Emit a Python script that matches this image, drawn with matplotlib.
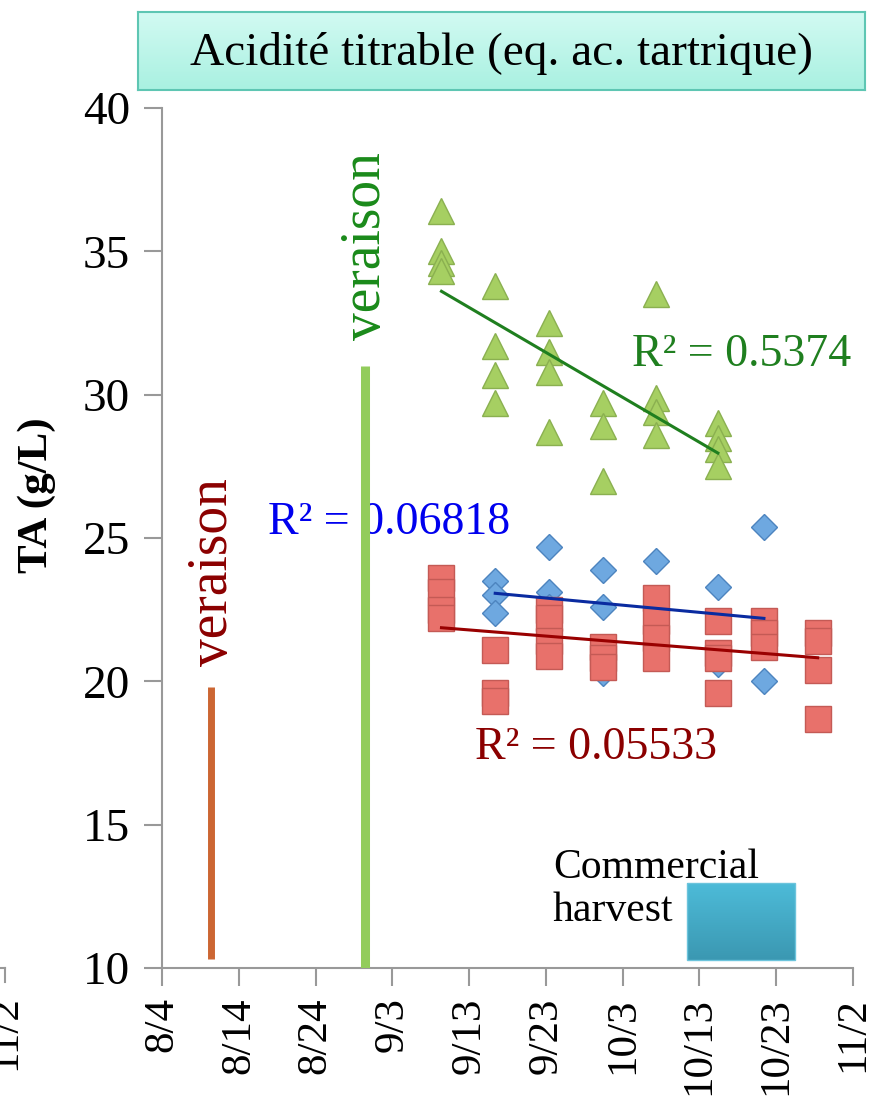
import numpy as np
import pandas as pd
import matplotlib
matplotlib.use("Agg")
import matplotlib.pyplot as plt
import matplotlib.dates as mdates
from matplotlib.colors import LinearSegmentedColormap
from matplotlib.patches import Rectangle

plt.rcParams['font.family'] = ['Liberation Serif', 'DejaVu Serif']

YEAR = 2012
SHIFT = 0.4  # samples sit a bit after midnight on the date axis

# sampling dates (month/day) and TA values (g/L) per date
green_ta = {
    "9/9": [36.4, 35.0, 34.6, 34.3],
    "9/16": [33.8, 31.7, 30.7, 29.7],
    "9/23": [32.5, 31.5, 30.8, 28.7],
    "9/30": [29.7, 28.9, 27.0],
    "10/7": [33.5, 29.9, 29.4, 28.6],
    "10/15": [29.0, 28.5, 28.1, 27.5],
}
blue_ta = {
    "9/16": [23.5, 23.0, 22.4],
    "9/23": [24.7, 23.1, 22.6],
    "9/30": [23.9, 22.6, 20.3],
    "10/7": [24.2, 22.0, 21.2],
    "10/15": [23.3, 20.6],
    "10/21": [25.4, 20.0],
}
red_ta = {
    "9/9": [23.6, 23.1, 22.5, 22.2],
    "9/16": [21.1, 19.6, 19.3],
    "9/23": [22.5, 22.2, 21.4, 20.9],
    "9/30": [21.2, 20.8, 20.5],
    "10/7": [22.9, 22.1, 21.5, 20.8],
    "10/15": [22.1, 21.0, 20.8, 19.6],
    "10/21": [22.1, 21.7, 21.2],
    "10/28": [21.7, 21.4, 20.4, 18.7],
}
r2_labels = {"green": "R² = 0.5374", "blue": "R² = 0.06818", "red": "R² = 0.05533"}

veraison_red = ("8/10", 19.8)
veraison_green = ("8/30", 31.0)
harvest_window = ("10/11", "10/25")

tick_labels = ["8/4", "8/14", "8/24", "9/3", "9/13", "9/23", "10/3", "10/13", "10/23", "11/2"]


def to_num(md, shift=0.0):
    m, d = md.split("/")
    return mdates.date2num(pd.Timestamp(YEAR, int(m), int(d))) + shift


def flatten(series):
    xs, ys = [], []
    for k, vals in series.items():
        for v in vals:
            xs.append(to_num(k, SHIFT))
            ys.append(v)
    return np.array(xs), np.array(ys)


fig = plt.figure(figsize=(8.83, 10.97), dpi=100)
ax = fig.add_axes([0.1835, 0.1176, 0.7825, 0.7839])

gx, gy = flatten(green_ta)
bx, by = flatten(blue_ta)
rx, ry = flatten(red_ta)

ax.plot(gx, gy, linestyle='none', marker='^', ms=19, mfc='#a6cf62', mec='#8ab050', mew=1, zorder=3)
ax.plot(bx, by, linestyle='none', marker='D', ms=13.5, mfc='#6ea8e0', mec='#4d84bf', mew=1, zorder=3)
ax.plot(rx, ry, linestyle='none', marker='s', ms=18.5, mfc='#e8716b', mec='#c45a55', mew=1, zorder=4)

# linear trend lines
for xs, ys, col in [(gx, gy, '#1f7f1f'), (bx, by, '#0a2ba0'), (rx, ry, '#990000')]:
    k, b = np.polyfit(xs, ys, 1)
    xx = np.array([xs.min(), xs.max()])
    ax.plot(xx, k * xx + b, color=col, lw=2.2, zorder=5)

# veraison markers
vr = to_num(veraison_red[0], SHIFT)
vg = to_num(veraison_green[0], SHIFT)
ax.plot([vr, vr], [10.3, veraison_red[1]], color='#cc6633', lw=5, zorder=6, solid_capstyle='butt')
ax.plot([vg, vg], [10, veraison_green[1]], color='#92cc5c', lw=6.5, zorder=6, solid_capstyle='butt')
ax.text(vr + 0.3, 23.8, "veraison", rotation=90, color='#8b0000',
        fontsize=40, ha='center', va='center')
ax.text(vg + 0.2, 35.2, "veraison", rotation=90, color='#1a8a1a',
        fontsize=40, ha='center', va='center')

# R² labels
ax.text(to_num("8/4", 61.2), 31.4, r2_labels["green"], color='#1f7f1f', fontsize=33, ha='left', va='center')
ax.text(to_num("8/4", 13.8), 25.55, r2_labels["blue"], color='#0000ee', fontsize=33, ha='left', va='center',
        zorder=2)
ax.text(to_num("8/4", 40.8), 17.67, r2_labels["red"], color='#8b0000', fontsize=33, ha='left', va='center')

# commercial harvest box
hx0, hx1 = to_num(harvest_window[0], SHIFT), to_num(harvest_window[1], SHIFT)
grad = np.linspace(0, 1, 64).reshape(-1, 1)
ax.imshow(grad, extent=[hx0, hx1, 10.28, 12.95], aspect='auto', origin='lower', zorder=3,
          cmap=LinearSegmentedColormap.from_list('h', ['#3b98b2', '#4dbbd8']))
ax.add_patch(Rectangle((hx0, 10.28), hx1 - hx0, 2.67, fill=False, ec='#6cc4dc', lw=1, zorder=3))
ax.text(to_num("8/4", 50.9), 12.75, "Commercial\nharvest", fontsize=30, ha='left', va='center',
        linespacing=1.15)

ax.set_xlim(to_num("8/4"), to_num("11/2"))
ax.set_ylim(10, 40)
ax.set_xticks([to_num(t) for t in tick_labels])
ax.set_xticklabels(tick_labels, rotation=90)
ax.set_yticks([10, 15, 20, 25, 30, 35, 40])
ax.tick_params(axis='both', color='#999999', length=13, width=1.5, direction='out')
ax.tick_params(axis='x', labelsize=31, pad=8)
ax.tick_params(axis='y', labelsize=34, pad=10)
for s in ['top', 'right']:
    ax.spines[s].set_visible(False)
for s in ['left', 'bottom']:
    ax.spines[s].set_color('#999999')
    ax.spines[s].set_linewidth(1.5)
ax.set_ylabel("TA (g/L)", fontsize=31, fontweight='bold')
ax.yaxis.set_label_coords(-0.153, 0.55)

# title box
tax = fig.add_axes([138 / 883, 1 - 90 / 1097, (865 - 138) / 883, 78 / 1097])
tgrad = np.linspace(0, 1, 64).reshape(-1, 1)
tax.imshow(tgrad, extent=[0, 1, 0, 1], aspect='auto', origin='lower',
           cmap=LinearSegmentedColormap.from_list('t', ['#a9f1e1', '#d2faf2']))
tax.set_xlim(0, 1)
tax.set_ylim(0, 1)
tax.set_xticks([])
tax.set_yticks([])
for s in tax.spines.values():
    s.set_color('#5ec6b3')
    s.set_linewidth(1.5)
tax.text(0.5, 0.47, "Acidité titrable (eq. ac. tartrique)", fontsize=34, ha='center', va='center')

# pieces of a neighbouring chart, cut by the left edge
fig.text(5 / 883, 1 - 1033 / 1097, "11/2", rotation=90, fontsize=31, ha='center', va='center')
fig.add_artist(plt.Line2D([0, 5 / 883], [1 - 968 / 1097] * 2, color='#999999', lw=1.5))
fig.add_artist(plt.Line2D([5 / 883] * 2, [1 - 968 / 1097, 1 - 982 / 1097], color='#999999', lw=1.5))

fig.savefig("out.png", dpi=100)
